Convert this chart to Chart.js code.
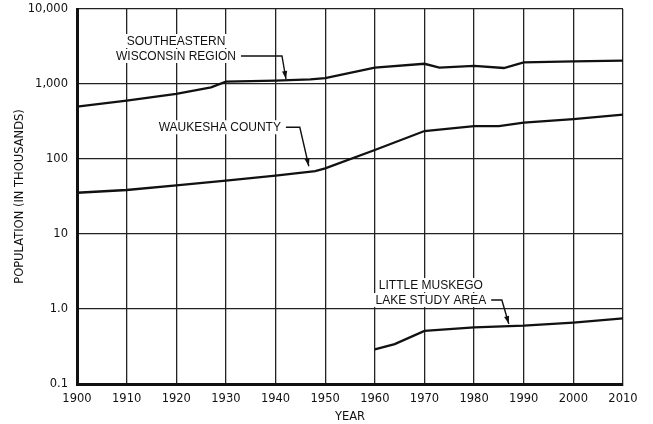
<!DOCTYPE html>
<html>
<head>
<meta charset="utf-8">
<script src="https://cdn.jsdelivr.net/npm/chart.js@4/dist/chart.umd.min.js"></script>
<style>
  html, body { margin: 0; padding: 0; background: #fff; }
  #wrap { width: 653px; height: 424px; }
</style>
</head>
<body>
<div id="wrap"><canvas id="popChart"></canvas></div>
<script>
// population in thousands
const seYears = [1900, 1910, 1920, 1927, 1930, 1940, 1947, 1950, 1960, 1970, 1973, 1980, 1986, 1990, 2000, 2010];
const seValues = [498, 600, 736, 904, 1073, 1107, 1155, 1200, 1650, 1860, 1650, 1740, 1634, 1946, 2005, 2046];

const wcYears = [1900, 1910, 1920, 1930, 1940, 1948, 1950, 1960, 1970, 1980, 1985, 1990, 2000, 2010];
const wcValues = [35.5, 38.6, 44.6, 51.4, 59.9, 69, 75, 132, 236, 275, 275, 305, 341, 390];

const lmYears = [1960, 1964, 1970, 1980, 1990, 2000, 2010];
const lmValues = [0.29, 0.34, 0.51, 0.57, 0.60, 0.66, 0.75];

const yTicks = [0.1, 1, 10, 100, 1000, 10000];
const yTickLabels = ["0.1", "1.0", "10", "100", "1,000", "10,000"];

const toPoints = (xs, ys) => xs.map((x, i) => ({ x: x, y: ys[i] }));

// labels with leader arrows (tip given in data units)
const notes = [
    { lines: ["SOUTHEASTERN", "WISCONSIN REGION"], year: 1942.1, value: 1166, dx: -110, dy: [-38, -23], knee: -4 },
    { lines: ["WAUKESHA COUNTY"], year: 1946.7, value: 80, dx: -89, dy: [-39], knee: -9 },
    { lines: ["LITTLE MUSKEGO", "LAKE STUDY AREA"], year: 1987, value: 0.63, dx: -78, dy: [-39, -24], knee: -7 }
];

const noteFont = "12px 'Liberation Sans', Arial, sans-serif";

const notesPlugin = {
    id: "notes",
    beforeDatasetsDraw(chart) {
        const ctx = chart.ctx;
        const xs = chart.scales.x, ys = chart.scales.y;
        ctx.save();
        ctx.font = noteFont;
        ctx.textAlign = "center";
        ctx.textBaseline = "middle";
        notes.forEach(n => {
            const tx = xs.getPixelForValue(n.year);
            const ty = ys.getPixelForValue(n.value);
            const cx = tx + n.dx;
            let lastRight = 0, lastY = 0;
            n.lines.forEach((line, i) => {
                const w = ctx.measureText(line).width;
                const cy = ty + n.dy[i];
                ctx.fillStyle = "#fff";
                ctx.fillRect(cx - w / 2 - 2, cy - 7, w + 4, 14);
                ctx.fillStyle = "#111";
                ctx.fillText(line, cx, cy + 0.5);
                lastRight = cx + w / 2;
                lastY = cy;
            });
            // leader
            const kx = tx + n.knee;
            ctx.strokeStyle = "#111";
            ctx.lineWidth = 1.4;
            ctx.beginPath();
            ctx.moveTo(lastRight + 5, lastY);
            ctx.lineTo(kx, lastY);
            ctx.lineTo(tx, ty);
            ctx.stroke();
            // arrow head
            const ang = Math.atan2(ty - lastY, tx - kx);
            const len = 8, half = 2.6;
            ctx.fillStyle = "#111";
            ctx.beginPath();
            ctx.moveTo(tx, ty);
            ctx.lineTo(tx - len * Math.cos(ang) + half * Math.sin(ang), ty - len * Math.sin(ang) - half * Math.cos(ang));
            ctx.lineTo(tx - len * Math.cos(ang) - half * Math.sin(ang), ty - len * Math.sin(ang) + half * Math.cos(ang));
            ctx.closePath();
            ctx.fill();
        });
        ctx.restore();
    }
};

const lineStyle = {
    borderColor: "#111",
    borderWidth: 2.3,
    pointRadius: 0,
    tension: 0,
    fill: false
};

new Chart(document.getElementById("popChart"), {
    type: "line",
    data: {
        datasets: [
            Object.assign({ label: "Southeastern Wisconsin Region", data: toPoints(seYears, seValues) }, lineStyle),
            Object.assign({ label: "Waukesha County", data: toPoints(wcYears, wcValues) }, lineStyle),
            Object.assign({ label: "Little Muskego Lake Study Area", data: toPoints(lmYears, lmValues) }, lineStyle)
        ]
    },
    options: {
        responsive: true,
        maintainAspectRatio: false,
        animation: false,
        layout: { padding: { left: 0, right: 30, top: 9, bottom: 0 } },
        plugins: {
            legend: { display: false },
            tooltip: { enabled: false }
        },
        scales: {
            x: {
                type: "linear",
                min: 1900,
                max: 2010,
                afterFit(scale) {
                    scale.height = 40;
                    scale.paddingLeft = 0;
                    scale.paddingRight = 0;
                },
                ticks: {
                    stepSize: 10,
                    color: "#111",
                    padding: 8,
                    maxRotation: 0,
                    font: { family: "'DejaVu Sans'", size: 11.5 },
                    callback: v => String(v)
                },
                grid: { color: "#222", lineWidth: 1.3, drawTicks: false },
                border: { color: "#111", width: 3 },
                title: {
                    display: true,
                    text: "YEAR",
                    color: "#111",
                    padding: { top: 0, bottom: 0 },
                    font: { family: "'DejaVu Sans'", size: 11.5 }
                }
            },
            y: {
                type: "logarithmic",
                min: 0.1,
                max: 10000,
                afterFit(scale) {
                    scale.width = 77;
                    scale.paddingTop = 0;
                    scale.paddingBottom = 0;
                },
                afterBuildTicks(scale) { scale.ticks = yTicks.map(v => ({ value: v })); },
                ticks: {
                    color: "#111",
                    padding: 9,
                    font: { family: "'DejaVu Sans'", size: 11.5 },
                    callback: v => yTickLabels[yTicks.indexOf(v)] ?? ""
                },
                grid: { color: "#222", lineWidth: 1.3, drawTicks: false },
                border: { color: "#111", width: 3 },
                title: {
                    display: true,
                    text: "POPULATION (IN THOUSANDS)",
                    color: "#111",
                    padding: { top: 13, bottom: 0 },
                    font: { family: "'DejaVu Sans'", size: 11.5 }
                }
            }
        }
    },
    plugins: [notesPlugin]
});
</script>
</body>
</html>
